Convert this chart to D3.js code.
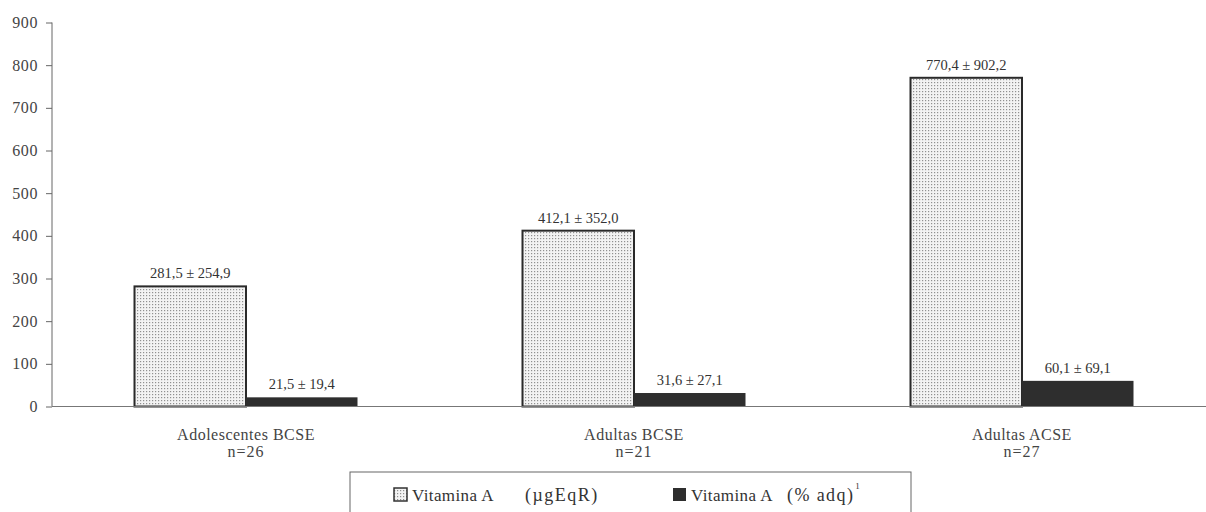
<!DOCTYPE html>
<html><head><meta charset="utf-8">
<script src="https://cdn.jsdelivr.net/npm/d3@7"></script>
<style>body{margin:0;background:#fff}svg{display:block}</style>
</head><body>
<svg id="c" width="1206" height="512"></svg>
<script>
const categories = ["Adolescentes BCSE", "Adultas BCSE", "Adultas ACSE"];
const sampleSizes = ["n=26", "n=21", "n=27"];
const seriesNames = ["Vitamina A  (µgEqR)", "Vitamina A (% adq)"];
const vitA_ug = [281.5, 412.1, 770.4];
const vitA_ug_sd = [254.9, 352.0, 902.2];
const vitA_pct = [21.5, 31.6, 60.1];
const vitA_pct_sd = [19.4, 27.1, 69.1];
const yTicks = [0, 100, 200, 300, 400, 500, 600, 700, 800, 900];

const fmt = v => v.toFixed(1).replace(".", ",");
const svg = d3.select("#c");
const font = "'Liberation Serif', 'Times New Roman', serif";

const defs = svg.append("defs");
const pat = defs.append("pattern").attr("id", "dots").attr("patternUnits", "userSpaceOnUse")
  .attr("width", 3).attr("height", 3);
pat.append("rect").attr("width", 3).attr("height", 3).attr("fill", "#f3f3f3");
pat.append("rect").attr("x", 1).attr("y", 1).attr("width", 1.2).attr("height", 1.2).attr("fill", "#909090");

const y = d3.scaleLinear().domain([0, 900]).range([406.5, 22.5]);
const x0 = d3.scaleBand().domain(categories).range([52, 1216]);
const x1 = d3.scaleBand().domain(seriesNames).range([82.5, 305.5]);

// y axis
const yAxis = d3.axisLeft(y).tickValues(yTicks).tickSize(6).tickPadding(8).tickFormat(d3.format("d"));
const gy = svg.append("g").attr("transform", "translate(52,0)").call(yAxis);
gy.attr("font-family", font);
gy.select(".domain").attr("stroke", "#666").attr("d", `M0,${y(0)}V${y(900)}`);
gy.selectAll(".tick line").attr("stroke", "#666");
gy.selectAll(".tick text").attr("font-family", font).attr("font-size", 16)
  .attr("letter-spacing", 0.6).attr("fill", "#444");

const data = categories.map((c, i) => ({
  c, i,
  vals: [
    {s: seriesNames[0], v: vitA_ug[i], sd: vitA_ug_sd[i]},
    {s: seriesNames[1], v: vitA_pct[i], sd: vitA_pct_sd[i]}
  ]
}));

const groups = svg.selectAll(".grp").data(data).join("g")
  .attr("transform", d => `translate(${x0(d.c)},0)`);

groups.selectAll("rect.bar").data(d => d.vals).join("rect")
  .attr("class", "bar")
  .attr("x", d => x1(d.s))
  .attr("width", x1.bandwidth())
  .attr("y", d => y(d.v))
  .attr("height", d => y(0) - y(d.v))
  .attr("fill", (d, j) => j === 0 ? "url(#dots)" : "#2e2e2e")
  .attr("stroke", (d, j) => j === 0 ? "#2a2a2a" : "none")
  .attr("stroke-width", 2);

groups.selectAll("text.val").data(d => d.vals).join("text")
  .attr("class", "val")
  .attr("x", d => x1(d.s) + x1.bandwidth() / 2)
  .attr("y", d => y(d.v) - 8)
  .attr("text-anchor", "middle")
  .attr("font-family", font).attr("font-size", 14.5).attr("fill", "#333")
  .text(d => `${fmt(d.v)} ± ${fmt(d.sd)}`);

// x axis line
svg.append("line").attr("x1", 52).attr("x2", 1206).attr("y1", y(0)).attr("y2", y(0))
  .attr("stroke", "#777").attr("stroke-width", 1.2);

// category labels
groups.append("text").attr("x", x0.bandwidth() / 2).attr("y", 440)
  .attr("text-anchor", "middle").attr("font-family", font).attr("font-size", 16)
  .attr("letter-spacing", 0.5).attr("fill", "#444")
  .text(d => d.c);
groups.append("text").attr("x", x0.bandwidth() / 2).attr("y", 457)
  .attr("text-anchor", "middle").attr("font-family", font).attr("font-size", 16)
  .attr("letter-spacing", 1).attr("fill", "#444")
  .text((d, i) => sampleSizes[i]);

// legend
const lg = svg.append("g");
lg.append("rect").attr("x", 350).attr("y", 472).attr("width", 561).attr("height", 60)
  .attr("fill", "none").attr("stroke", "#666").attr("stroke-width", 1);
lg.append("rect").attr("x", 394).attr("y", 488).attr("width", 13).attr("height", 13)
  .attr("fill", "url(#dots)").attr("stroke", "#333").attr("stroke-width", 1.5);
const parts1 = seriesNames[0].split("  ");
lg.append("text").attr("x", 412).attr("y", 501).attr("font-family", font).attr("font-size", 17)
  .attr("letter-spacing", 0.4).attr("fill", "#333").text(parts1[0]);
lg.append("text").attr("x", 525).attr("y", 501).attr("font-family", font).attr("font-size", 18)
  .attr("letter-spacing", 1.5).attr("fill", "#333").text(parts1[1]);
lg.append("rect").attr("x", 673).attr("y", 488).attr("width", 13).attr("height", 13).attr("fill", "#2e2e2e");
const i2 = seriesNames[1].indexOf("(");
lg.append("text").attr("x", 691).attr("y", 501).attr("font-family", font).attr("font-size", 17)
  .attr("letter-spacing", 0.4).attr("fill", "#333").text(seriesNames[1].slice(0, i2).trim());
const t2 = lg.append("text").attr("x", 787).attr("y", 501).attr("font-family", font).attr("font-size", 18)
  .attr("letter-spacing", 1.4).attr("fill", "#333");
t2.append("tspan").text(seriesNames[1].slice(i2));
t2.append("tspan").attr("dx", 1).attr("dy", -12).attr("font-size", 9).text("1");
</script>
</body></html>
